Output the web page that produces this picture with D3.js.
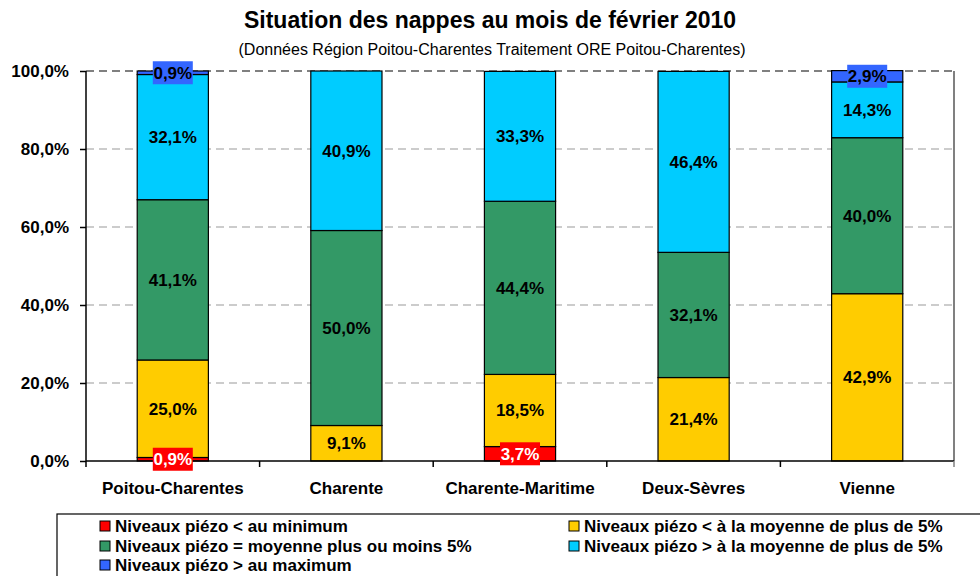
<!DOCTYPE html>
<html>
<meta charset="utf-8">
<style>
  body { margin: 0; background: #fff; }
  text { font-family: "Liberation Sans", Arial, sans-serif; }
  .grid line { stroke: #999; stroke-dasharray: 8, 5; }
  .lbl { font-weight: bold; font-size: 17px; }
</style>
<body>
<script src="https://d3js.org/d3.v7.min.js"></script>
<script>
  // data
  let categories = ["Poitou-Charentes", "Charente", "Charente-Maritime", "Deux-Sèvres", "Vienne"];
  let seriesNames = [
    "Niveaux piézo < au minimum",
    "Niveaux piézo < à la moyenne de plus de 5%",
    "Niveaux piézo = moyenne plus ou moins 5%",
    "Niveaux piézo > à la moyenne de plus de 5%",
    "Niveaux piézo > au maximum"
  ];
  let belowMin = [0.9, 0, 3.7, 0, 0];
  let belowMean = [25.0, 9.1, 18.5, 21.4, 42.9];
  let nearMean = [41.1, 50.0, 44.4, 32.1, 40.0];
  let aboveMean = [32.1, 40.9, 33.3, 46.4, 14.3];
  let aboveMax = [0.9, 0, 0, 0, 2.9];
  let yTicks = [0, 20, 40, 60, 80, 100];
  let colors = ["#ff0000", "#ffcc00", "#339966", "#00ccff", "#3366ff"];

  let width = 980, height = 576;
  let margin = { left: 86, right: 26, top: 71, bottom: 115 };

  let svg = d3.select("body").append("svg")
    .attr("width", width)
    .attr("height", height);

  let x = d3.scaleBand()
    .domain(categories)
    .range([margin.left, width - margin.right])
    .paddingInner(0.59).paddingOuter(0.295);

  let y = d3.scaleLinear()
    .domain([0, 100])
    .range([height - margin.bottom, margin.top]);

  // title
  svg.append("text")
    .attr("x", 490).attr("y", 28)
    .attr("text-anchor", "middle")
    .style("font-weight", "bold").style("font-size", "23px")
    .text("Situation des nappes au mois de février 2010");
  svg.append("text")
    .attr("x", 492).attr("y", 55)
    .attr("text-anchor", "middle")
    .style("font-size", "16px")
    .text("(Données Région Poitou-Charentes Traitement ORE Poitou-Charentes)");

  // grid lines
  svg.append("g").attr("class", "grid")
    .selectAll("line")
    .data(yTicks.filter(d => d > 0))
    .join("line")
    .attr("x1", margin.left).attr("x2", width - margin.right)
    .attr("y1", d => y(d)).attr("y2", d => y(d))
    .style("stroke", d => d === 100 ? "#808080" : null)
    .style("stroke-width", d => d === 100 ? 2 : 1);

  // right border of plot area
  svg.append("line")
    .attr("x1", width - margin.right).attr("x2", width - margin.right)
    .attr("y1", y(100)).attr("y2", y(0))
    .attr("stroke", "#808080").attr("stroke-width", 2);

  // stack the series
  let rows = categories.map((c, i) => ({
    cat: c, s0: belowMin[i], s1: belowMean[i], s2: nearMean[i], s3: aboveMean[i], s4: aboveMax[i]
  }));
  let keys = ["s0", "s1", "s2", "s3", "s4"];
  let stacked = d3.stack().keys(keys)(rows);

  let layers = svg.append("g").selectAll("g")
    .data(stacked)
    .join("g")
    .attr("fill", (d, i) => colors[i]);

  layers.selectAll("rect")
    .data(d => d.filter(p => p[1] - p[0] > 0))
    .join("rect")
    .attr("x", d => x(d.data.cat))
    .attr("width", x.bandwidth())
    .attr("y", d => y(d[1]))
    .attr("height", d => y(d[0]) - y(d[1]))
    .attr("stroke", "#000")
    .attr("stroke-width", 1.2);

  // axes
  let yAxis = svg.append("g")
    .attr("transform", `translate(${margin.left},0)`)
    .call(d3.axisLeft(y).tickValues(yTicks).tickSize(6).tickPadding(11)
      .tickFormat(d => d3.format(".1f")(d).replace(".", ",") + "%"));
  yAxis.selectAll("text").attr("class", "lbl").attr("fill", "#000");
  yAxis.selectAll("line,path").attr("stroke", "#000").attr("stroke-width", 1.5);
  yAxis.select("path").attr("d", `M0,${y(0)}V${y(100)}`);

  let xAxis = svg.append("g")
    .attr("transform", `translate(0,${y(0)})`)
    .call(d3.axisBottom(x).tickSize(0).tickPadding(21));
  xAxis.select("path").attr("d", `M${margin.left},0H${width - margin.right}`)
    .attr("stroke", "#000").attr("stroke-width", 1.5);
  xAxis.selectAll("text").attr("class", "lbl").attr("fill", "#000");
  // tick marks on category boundaries
  let step = x.step();
  xAxis.selectAll(".bound")
    .data(d3.range(categories.length + 1))
    .join("line")
    .attr("x1", i => margin.left + i * step).attr("x2", i => margin.left + i * step)
    .attr("y1", 0).attr("y2", 6)
    .attr("stroke", (d, i) => i === categories.length ? "#808080" : "#000")
    .attr("stroke-width", 1.5);

  // value labels
  let labels = svg.append("g");
  stacked.forEach((layer, si) => {
    layer.filter(p => p[1] - p[0] > 0).forEach(p => {
      let v = p[1] - p[0];
      let cx = x(p.data.cat) + x.bandwidth() / 2;
      let cy = y((p[0] + p[1]) / 2);
      let txt = d3.format(".1f")(v).replace(".", ",") + "%";
      let g = labels.append("g");
      if (si === 0 || si === 4) {
        g.append("rect")
          .attr("x", cx - 20).attr("y", cy - 11.5)
          .attr("width", 40).attr("height", 23)
          .attr("fill", colors[si]);
      }
      g.append("text")
        .attr("class", "lbl")
        .attr("x", cx).attr("y", cy + 6)
        .attr("text-anchor", "middle")
        .attr("fill", si === 0 ? "#fff" : "#000")
        .text(txt);
    });
  });

  // legend
  let legend = svg.append("g");
  legend.append("rect")
    .attr("x", 57).attr("y", 514)
    .attr("width", 940).attr("height", 80)
    .attr("fill", "none").attr("stroke", "#000").attr("stroke-width", 1.2);
  let legendPos = [
    [100, 526], [569, 526], [100, 546], [569, 546], [100, 565]
  ];
  let items = legend.selectAll(".item")
    .data(d3.range(seriesNames.length))
    .join("g")
    .attr("transform", (d, i) => `translate(${legendPos[i][0]},${legendPos[i][1]})`);
  items.append("rect")
    .attr("x", 0).attr("y", -5)
    .attr("width", 10).attr("height", 10)
    .attr("fill", d => colors[d]).attr("stroke", "#000");
  items.append("text")
    .attr("class", "lbl")
    .attr("x", 15).attr("y", 6)
    .text(d => seriesNames[d]);
</script>
</body>
</html>
